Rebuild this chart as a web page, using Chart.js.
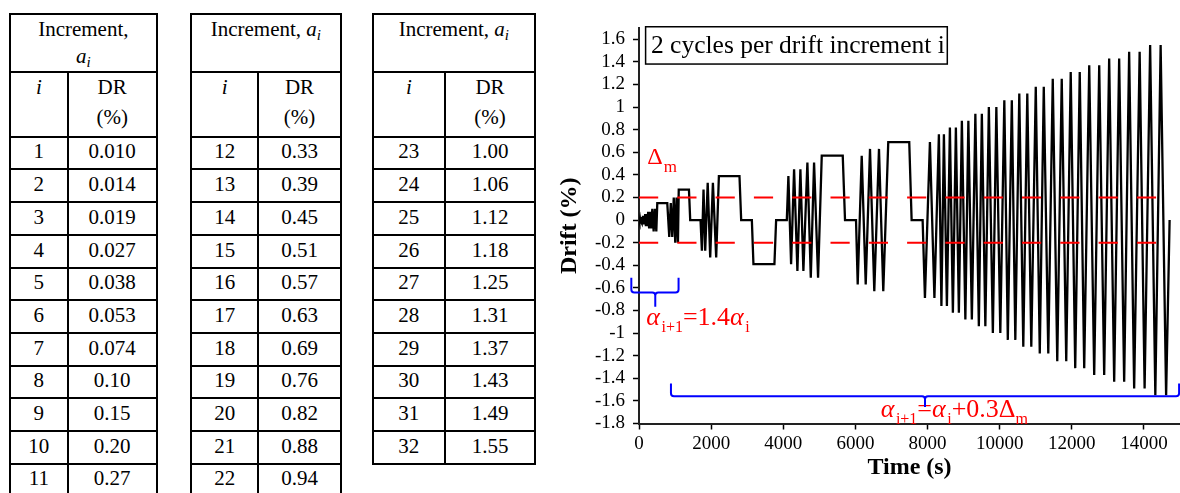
<!DOCTYPE html>
<html><head><meta charset="utf-8">
<script src="https://cdn.jsdelivr.net/npm/chart.js@4.4.1/dist/chart.umd.min.js"></script>
<style>
html,body{margin:0;padding:0;background:#fff;}
#wrap{position:relative;width:1180px;height:493px;overflow:hidden;font-family:'Liberation Serif',serif;color:#000;background:#fff;}
.ln{position:absolute;background:#000;}
.tx{position:absolute;white-space:nowrap;font-size:21px;line-height:21px;transform:translateX(-50%);}
.sb{font-size:15px;font-style:italic;position:relative;top:4px;}
#c{position:absolute;left:540px;top:0;width:640px;height:493px;}
</style></head><body><div id="wrap"><div id="tables"></div><canvas id="c" width="640" height="493"></canvas></div>
<script>
// ---------- table data ----------
const incI = [1,2,3,4,5,6,7,8,9,10,11,12,13,14,15,16,17,18,19,20,21,22,23,24,25,26,27,28,29,30,31,32];
const drText = ["0.010","0.014","0.019","0.027","0.038","0.053","0.074","0.10","0.15","0.20","0.27",
                "0.33","0.39","0.45","0.51","0.57","0.63","0.69","0.76","0.82","0.88","0.94",
                "1.00","1.06","1.12","1.18","1.25","1.31","1.37","1.43","1.49","1.55"];
const tableRanges = [[0,11],[11,22],[22,32]];

// ---------- chart data (time in s, drift in %) ----------
const timeS = [0,2,6,9,13,18,23,28,33,40,46,53,60,69,79,89,99,111,125,140,154,171,191,210,230,254,281,309,336,369,406,443,480,
  507,784,839,881,922,964,1005,1041,1080,1102,1385,1420,1706,1744,1789,1836,1905,1974,2049,2140,
  2215,2786,2833,3129,3173,3755,3802,4098,4142,4217,4300,4392,4475,4558,4669,4763,4854,4965,
  5067,5649,5712,6017,6064,6175,6286,6405,6524,6654,6773,6911,7493,7559,7864,7928,8066,8191,
  8315,8385,8454,8537,8620,8703,8786,8869,8952,9049,9132,9229,9326,9423,9506,9603,
  9700,9811,9908,10018,10129,10226,10337,10434,10544,10655,10766,10877,11001,11112,11223,11348,
  11472,11597,11721,11846,11970,12095,12220,12344,12483,12621,12760,12898,13036,13175,13313,13452,
  13590,13729,13881,14019,14172,14316,14463,14615,14712];
const driftPct = [0,0.01,-0.01,0.01,-0.01,0.014,-0.014,0.014,-0.014,0.019,-0.019,0.019,-0.019,0.027,-0.027,0.027,-0.027,
  0.038,-0.038,0.038,-0.038,0.053,-0.053,0.053,-0.053,0.074,-0.074,0.074,-0.074,0.10,-0.10,0.10,-0.10,
  0.15,0.15,-0.15,0.15,-0.15,0.2,-0.2,0.2,-0.2,0.27,0.27,0,0,-0.27,0.27,-0.27,0.33,-0.33,0.33,-0.33,
  0.39,0.39,0,0,-0.39,-0.39,0,0,0.39,-0.39,0.45,-0.45,0.45,-0.45,0.51,-0.51,0.51,-0.51,
  0.57,0.57,0,0,-0.57,0.57,-0.57,0.63,-0.63,0.63,-0.63,0.69,0.69,0,0,-0.69,0.69,-0.69,
  0.76,-0.76,0.76,-0.76,0.82,-0.82,0.82,-0.82,0.88,-0.88,0.88,-0.88,0.94,-0.94,0.94,-0.94,
  1.00,-1.00,1.00,-1.00,1.06,-1.06,1.06,-1.06,1.12,-1.12,1.12,-1.12,1.18,-1.18,1.18,-1.18,
  1.25,-1.25,1.25,-1.25,1.31,-1.31,1.31,-1.31,1.37,-1.37,1.37,-1.37,1.43,-1.43,1.43,-1.43,
  1.49,-1.49,1.49,-1.49,1.55,-1.55,1.55,-1.55,0];
const dmLevels = [0.2,-0.2];
const dmSpanS = [0,14700];
const xTickValues = [0,2000,4000,6000,8000,10000,12000,14000];
const xTickLabels = ["0","2000","4000","6000","8000","10000","12000","14000"];
const yTickValues = [-1.8,-1.6,-1.4,-1.2,-1,-0.8,-0.6,-0.4,-0.2,0,0.2,0.4,0.6,0.8,1,1.2,1.4,1.6];
const yTickLabels = ["-1.8","-1.6","-1.4","-1.2","-1","-0.8","-0.6","-0.4","-0.2","0","0.2","0.4","0.6","0.8","1","1.2","1.4","1.6"];

// ---------- tables ----------
const host = document.getElementById('tables');
const TFS = 21, BASEOFF = 0.8375*TFS;
function hline(x1,x2,y){const d=document.createElement('div');d.className='ln';d.style.left=(x1-1)+'px';d.style.top=(y-1)+'px';d.style.width=(x2-x1+2)+'px';d.style.height='2px';host.appendChild(d);}
function vline(x,y1,y2){const d=document.createElement('div');d.className='ln';d.style.left=(x-1)+'px';d.style.top=(y1-1)+'px';d.style.width='2px';d.style.height=(y2-y1+2)+'px';host.appendChild(d);}
function text(html,cx,base){const d=document.createElement('div');d.className='tx';d.innerHTML=html;d.style.left=cx+'px';d.style.top=(base-BASEOFF)+'px';host.appendChild(d);}
const TOP=13.5, H1=71.7, H2=136.7, RH=32.7;
const cols=[[10,67.7,156.7],[191,258.3,340.7],[372.7,445,535]];
const ai='<i>a</i><span class="sb">i</span>';
tableRanges.forEach((r,k)=>{
  const [a,b,c]=cols[k]; const n=r[1]-r[0]; const bottom=H2+n*RH;
  hline(a,c,TOP); hline(a,c,H1); hline(a,c,H2);
  for(let j=1;j<=n;j++) hline(a,c,H2+j*RH);
  vline(a,TOP,bottom); vline(c,TOP,bottom); vline(b,H1,bottom);
  const mid=(a+c)/2, m1=(a+b)/2, m2=(b+c)/2;
  if(k===0){text('Increment,',mid,37);text(ai,mid,64);} else text('Increment, '+ai,mid,37);
  text('<i>i</i>',m1,95); text('DR',m2,95); text('(%)',m2,125);
  for(let j=0;j<n;j++){const idx=r[0]+j;const top=H2+j*RH;text(String(incI[idx]),m1,top+22.3);text(drText[idx],m2,top+22.3);}
});

// ---------- chart ----------
const FAM="'Liberation Serif', serif";
Chart.defaults.font.family=FAM;
const driftPts = timeS.map((t,i)=>({x:t,y:driftPct[i]}));
const dmSets = dmLevels.map(v=>({data:dmSpanS.map(t=>({x:t,y:v})),showLine:true,borderColor:'#ff0000',borderWidth:2,borderDash:[19.2,19.1],pointRadius:0,order:0}));

function runs(ctx,x,base,list,color){
  ctx.fillStyle=color; ctx.textAlign='left'; ctx.textBaseline='alphabetic';
  for(const r of list){ctx.font=r.f;ctx.fillText(r.t,x,base+(r.dy||0));x+=ctx.measureText(r.t).width+(r.gap||0);}
}
const annot={
  id:'annot',
  afterDatasetsDraw(chart){
    const {ctx,scales:{x,y}}=chart;
    const X=v=>x.getPixelForValue(v), Y=v=>y.getPixelForValue(v);
    ctx.save();
    // title box
    ctx.strokeStyle='#000'; ctx.lineWidth=1.5;
    ctx.strokeRect(X(183),Y(1.711),X(8548)-X(183),Y(1.381)-Y(1.711));
    runs(ctx,X(332),Y(1.475),[{t:'2 cycles per drift increment i',f:"25.5px "+FAM}],'#000');
    // red labels
    const M="26px "+FAM, MI="italic 26px "+FAM, S="16px "+FAM;
    runs(ctx,X(232),Y(0.496),[{t:'\u0394',f:"24px "+FAM,gap:1},{t:'m',f:"17px "+FAM,dy:8}],'#ff0000');
    runs(ctx,X(202),Y(-0.929),[{t:'\u03b1',f:MI,gap:1.5},{t:'i+1',f:S,dy:7},{t:'=1.4',f:M},{t:'\u03b1',f:MI,gap:1.5},{t:'i',f:S,dy:7}],'#ff0000');
    runs(ctx,X(6703),Y(-1.741),[{t:'\u03b1',f:MI,gap:1.5},{t:'i+1',f:S,dy:7},{t:'=',f:M},{t:'\u03b1',f:MI,gap:1.5},{t:'i',f:S,dy:7},{t:'+0.3\u0394',f:M},{t:'m',f:S,dy:7}],'#ff0000');
    // blue braces
    ctx.strokeStyle='#0000ff'; ctx.lineWidth=2; ctx.lineJoin='round';
    function brace(t0,t1,tc,vTop,vH,vTip){
      const xl=X(t0),xr=X(t1),xc=X(tc),yt=Y(vTop),yh=Y(vH),yp=Y(vTip),r=3;
      ctx.beginPath();
      ctx.moveTo(xl,yt);ctx.lineTo(xl,yh-r);ctx.quadraticCurveTo(xl,yh,xl+r,yh);ctx.lineTo(xc-r,yh);ctx.quadraticCurveTo(xc,yh,xc,yh+r);ctx.lineTo(xc,yp);
      ctx.moveTo(xc,yh+r);ctx.quadraticCurveTo(xc,yh,xc+r,yh);ctx.lineTo(xr-r,yh);ctx.quadraticCurveTo(xr,yh,xr,yh-r);ctx.lineTo(xr,yt);
      ctx.stroke();
    }
    brace(-213,1097,451,-0.511,-0.640,-0.767);
    brace(886,14975,7930,-1.445,-1.558,-1.653);
    ctx.restore();
  }
};

new Chart(document.getElementById('c'),{
  type:'scatter',
  data:{datasets:[...dmSets,{data:driftPts,showLine:true,borderColor:'#000',borderWidth:2.3,pointRadius:0,order:1}]},
  options:{
    responsive:false, animation:false, devicePixelRatio:1,
    layout:{padding:{top:28,right:0,bottom:0,left:0}},
    plugins:{legend:{display:false},tooltip:{enabled:false}},
    scales:{
      x:{type:'linear',min:0,max:15000,
        afterBuildTicks:s=>{s.ticks=xTickValues.map(v=>({value:v}));},
        afterFit:s=>{s.height=69.5;},
        grid:{drawOnChartArea:false,drawTicks:true,tickLength:6,tickColor:'#000',tickWidth:1.5},
        border:{display:true,color:'#222',width:2},
        ticks:{autoSkip:false,maxRotation:0,padding:3,color:'#000',font:{size:19,family:FAM},callback:(v,i)=>xTickLabels[i]},
        title:{display:true,text:'Time (s)',color:'#000',font:{size:24,weight:'bold',family:FAM},padding:{top:0,bottom:10.7}}
      },
      y:{type:'linear',min:-1.8,max:1.7,
        afterBuildTicks:s=>{s.ticks=yTickValues.map(v=>({value:v}));},
        afterFit:s=>{s.width=99;},
        grid:{drawOnChartArea:false,drawTicks:true,tickLength:6,tickColor:'#000',tickWidth:1.5},
        border:{display:true,color:'#222',width:2},
        ticks:{autoSkip:false,padding:8,color:'#000',font:{size:19,family:FAM},callback:(v,i)=>yTickLabels[i]},
        title:{display:true,text:'Drift (%)',color:'#000',font:{size:24,weight:'bold',family:FAM},padding:{top:15.5,bottom:0}}
      }
    }
  },
  plugins:[annot]
});
</script></body></html>
